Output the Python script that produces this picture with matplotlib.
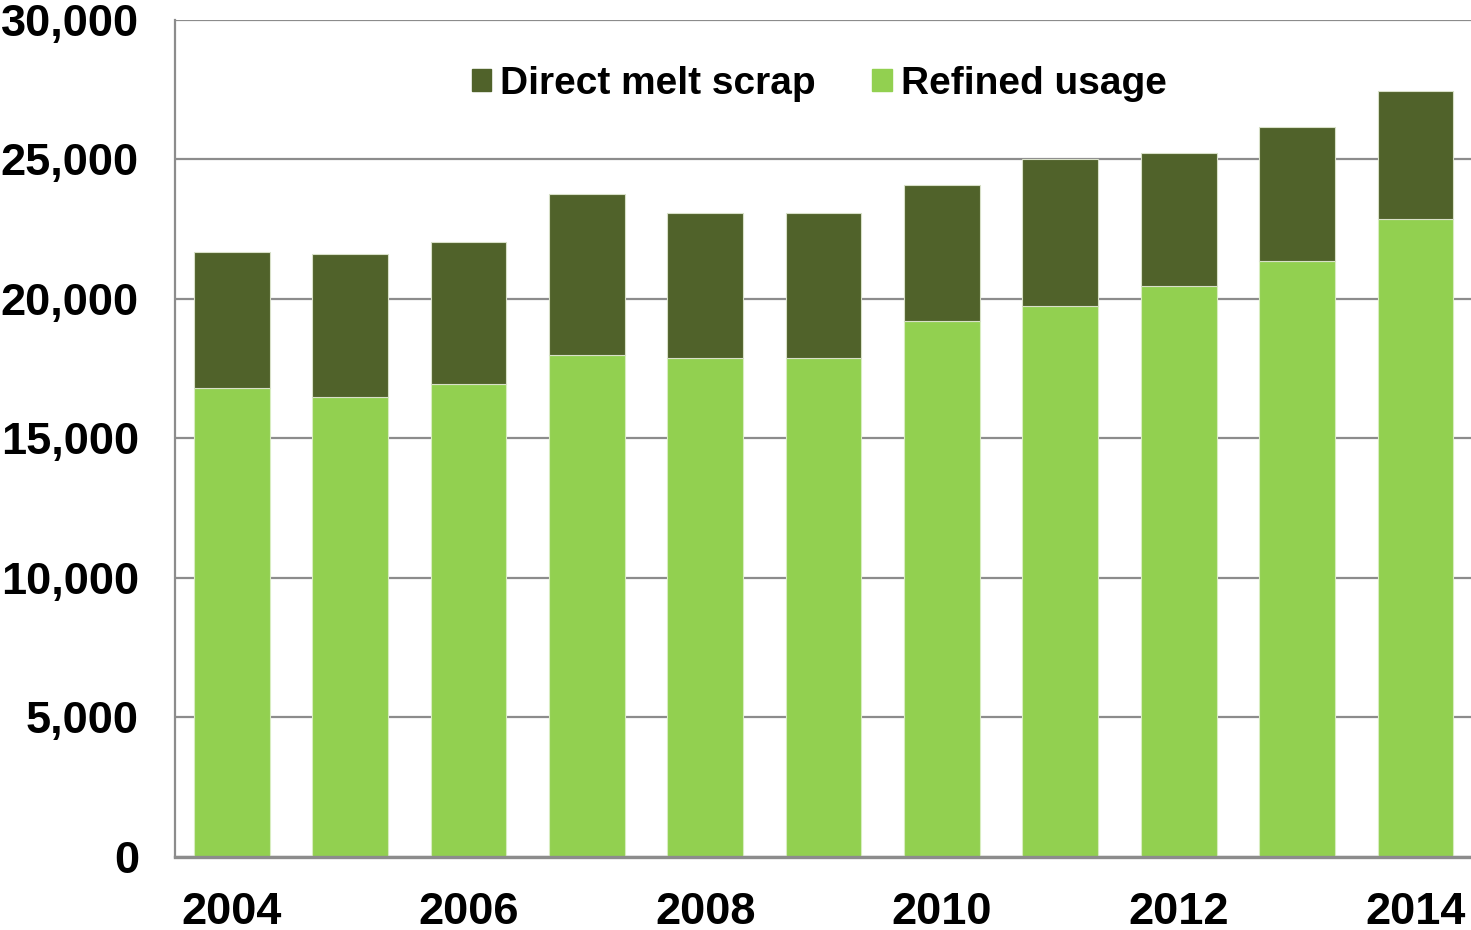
import matplotlib.pyplot as plt
from matplotlib.ticker import FuncFormatter
from matplotlib.patches import Patch

plt.rcParams['font.family'] = ['Liberation Sans', 'DejaVu Sans']
plt.rcParams['font.weight'] = 'bold'

# Data (thousand tonnes)
years = [2004, 2005, 2006, 2007, 2008, 2009, 2010, 2011, 2012, 2013, 2014]
refined = [16800, 16500, 16950, 18000, 17900, 17900, 19200, 19750, 20450, 21350, 22850]
total = [21700, 21600, 22050, 23750, 23100, 23100, 24100, 25000, 25250, 26150, 27450]
scrap = [t - r for t, r in zip(total, refined)]

dark = '#50622A'
light = '#92D050'
grid_color = '#8C8C8C'

fig = plt.figure(figsize=(14.71, 9.30), dpi=100)
ax = fig.add_axes([0.119, 0.0785, 0.881, 0.9])

x = list(range(len(years)))
ax.bar(x, refined, width=0.64, color=light, edgecolor='#D8EDC0', linewidth=0.8, zorder=3)
ax.bar(x, scrap, width=0.64, bottom=refined, color=dark, edgecolor='#D8E0C8', linewidth=0.8, zorder=3)

ax.set_xlim(-0.48, 10.47)
ax.set_ylim(0, 30000)
ax.set_yticks(range(0, 30001, 5000))
ax.yaxis.set_major_formatter(FuncFormatter(lambda v, p: f'{int(v):,}'))
ax.set_xticks(x[::2])
ax.set_xticklabels([str(y) for y in years[::2]])

ax.grid(axis='y', color=grid_color, linewidth=1.6, zorder=0)
ax.tick_params(axis='both', length=0, labelsize=32.5)
ax.tick_params(axis='y', pad=26)
ax.tick_params(axis='x', pad=25)
for lab in ax.get_xticklabels() + ax.get_yticklabels():
    lab.set_fontweight('bold')

for s in ['top', 'right']:
    ax.spines[s].set_visible(False)
ax.spines['left'].set_color(grid_color)
ax.spines['left'].set_linewidth(1.6)
ax.spines['bottom'].set_color(grid_color)
ax.spines['bottom'].set_linewidth(2.4)
ax.spines['bottom'].set_zorder(4)

handles = [Patch(color=dark, label='Direct melt scrap'),
           Patch(color=light, label='Refined usage')]
ax.legend(handles=handles, loc='center', bbox_to_anchor=(0.497, 0.924), ncol=2,
          frameon=False, handlelength=0.5, handleheight=0.5, handletextpad=0.23,
          columnspacing=1.45, prop={'size': 28, 'weight': 'bold'})

fig.savefig('out.png', dpi=100)
